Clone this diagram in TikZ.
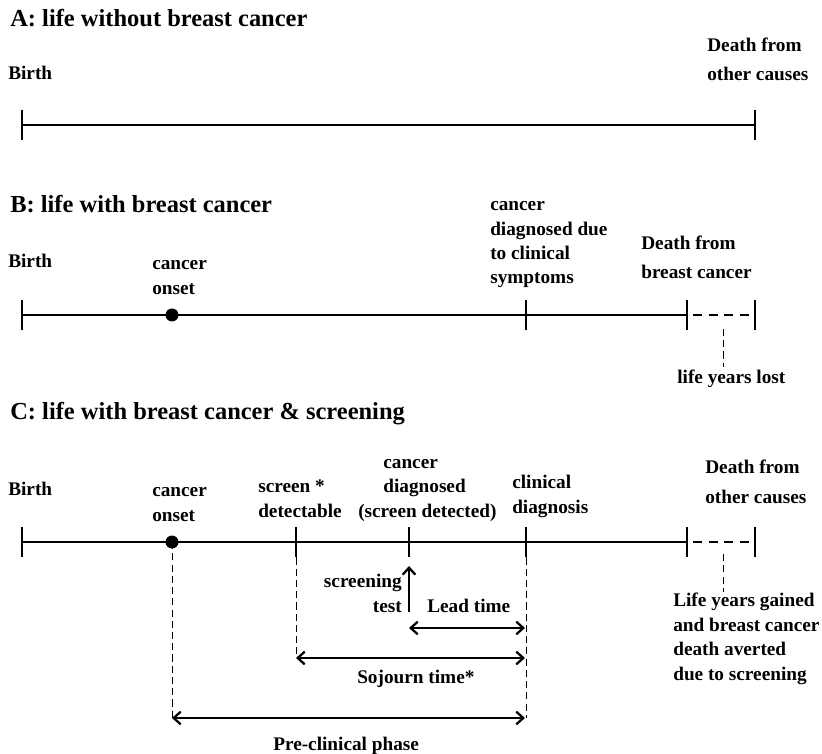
\documentclass[tikz,border=0pt]{standalone}
\usepackage{fontspec}
\setmainfont{Liberation Serif}
\usetikzlibrary{arrows.meta}
\tikzset{>={Straight Barb[length=5pt,width=9pt]}}
\tikzset{
  ttl/.style={font=\bfseries\fontsize{17.4}{21}\selectfont, inner sep=0pt, anchor=base west},
  lbl/.style={font=\bfseries\fontsize{13.7}{17.4}\selectfont, align=left, inner sep=0pt, anchor=base west},
  lblwide/.style={lbl, font=\bfseries\fontsize{13.7}{21.3}\selectfont},
  tline/.style={line width=2.1pt},
  tickmark/.style={line width=2.1pt},
  lostpart/.style={line width=2.1pt, dash pattern=on 6.6pt off 4.4pt, dash phase=6.6pt},
  guide/.style={line width=0.6pt, dash pattern=on 5pt off 3pt},
  spanarrow/.style={line width=1.6pt},
}

\begin{document}
\begin{tikzpicture}[x=0.025cm, y=-0.025cm]
            \useasboundingbox (0,0) rectangle (822,754);

            \node[ttl] (titleA) at (10,27) {A: life without breast cancer};
            \node[lbl] (birthA) at (8,80) {Birth};
            \node[lblwide] (deathA) at (707,81) {Death from\\other causes};
            \coordinate (a0) at (22,125);
            \coordinate (a1) at (755,125);
            \draw[tline] (a0) -- (a1);
            \foreach \p in {a0,a1}
                \draw[tickmark] ([yshift=10.7pt]\p) -- ([yshift=-10.7pt]\p);

            \node[ttl] (titleB) at (10,213) {B: life with breast cancer};
            \node[lbl] (birthB) at (8,268) {Birth};
            \node[lbl] (onsetB) at (152,294) {cancer\\onset};
            \node[lbl] (clinB) at (490,284) {cancer\\diagnosed due\\to clinical\\symptoms};
            \node[lblwide] (deathB) at (641,279) {Death from\\breast cancer};
            \node[lbl] (lostB) at (677,384) {life years lost};
            \coordinate (b0) at (22,315);
            \coordinate (b1) at (172,315);
            \coordinate (b2) at (526,315);
            \coordinate (b3) at (687,315);
            \coordinate (b4) at (755,315);
            \draw[tline] (b0) -- (b3);
            \draw[lostpart] (b3) -- (b4);
            \foreach \p in {b0,b2,b3,b4}
                \draw[tickmark] ([yshift=10.7pt]\p) -- ([yshift=-10.7pt]\p);
            \fill (b1) circle [radius=6.5];
            \coordinate (lostBtop) at (723,329);
            \coordinate (lostBbot) at (723,367);
            \draw[guide] (lostBtop) -- (lostBbot);

            \node[ttl] (titleC) at (10,419) {C: life with breast cancer \& screening};
            \node[lbl] (birthC) at (8,495) {Birth};
            \node[lbl] (onsetC) at (152,521) {cancer\\onset};
            \node[lbl] (detectC) at (258,517) {screen *\\detectable};
            \node[lbl] (screenC) at (358,517) {\hspace*{1.3em}cancer\\\hspace*{1.3em}diagnosed\\(screen detected)};
            \node[lbl] (clinC) at (512,513) {clinical\\diagnosis};
            \node[lblwide] (deathC) at (705,503) {Death from\\other causes};
            \node[lbl] (gainC) at (673,680) {Life years gained\\and breast cancer\\death averted\\due to screening};
            \coordinate (c0) at (22,542);
            \coordinate (c1) at (172,542);
            \coordinate (c2) at (296,542);
            \coordinate (c3) at (409,542);
            \coordinate (c4) at (526,542);
            \coordinate (c5) at (687,542);
            \coordinate (c6) at (755,542);
            \draw[tline] (c0) -- (c5);
            \draw[lostpart] (c5) -- (c6);
            \foreach \p in {c0,c2,c3,c4,c5,c6}
                \draw[tickmark] ([yshift=10.7pt]\p) -- ([yshift=-10.7pt]\p);
            \fill (c1) circle [radius=6.5];
            \coordinate (gainCtop) at (723,554);
            \coordinate (gainCbot) at (723,592);
            \draw[guide] (gainCtop) -- (gainCbot);

            \coordinate (onsetbot) at (172,718);
            \coordinate (detectbot) at (296,658);
            \coordinate (clinbot) at (526,718);
            \draw[guide] (c1) -- (onsetbot);
            \draw[guide] ([yshift=-11pt]c2) -- (detectbot);
            \draw[guide] ([yshift=-11pt]c4) -- (clinbot);

            \coordinate (testbot) at (409,612);
            \coordinate (testtop) at (409,566);
            \draw[spanarrow, ->] (testbot) -- (testtop);
            \node[lbl, align=right, anchor=base east] (testC) at (402,612) {screening\\test};

            \coordinate (lead0) at (409,628);
            \coordinate (lead1) at (525,628);
            \draw[spanarrow, <->] (lead0) -- (lead1);
            \node[lbl] (leadC) at (427,612) {Lead time};

            \coordinate (soj0) at (296,658);
            \coordinate (soj1) at (525,658);
            \draw[spanarrow, <->] (soj0) -- (soj1);
            \node[lbl] (sojC) at (357,683) {Sojourn time*};

            \coordinate (pre0) at (172,718);
            \coordinate (pre1) at (525,718);
            \draw[spanarrow, <->] (pre0) -- (pre1);
            \node[lbl] (preC) at (273,750) {Pre-clinical phase};
        \end{tikzpicture}
\end{document}
